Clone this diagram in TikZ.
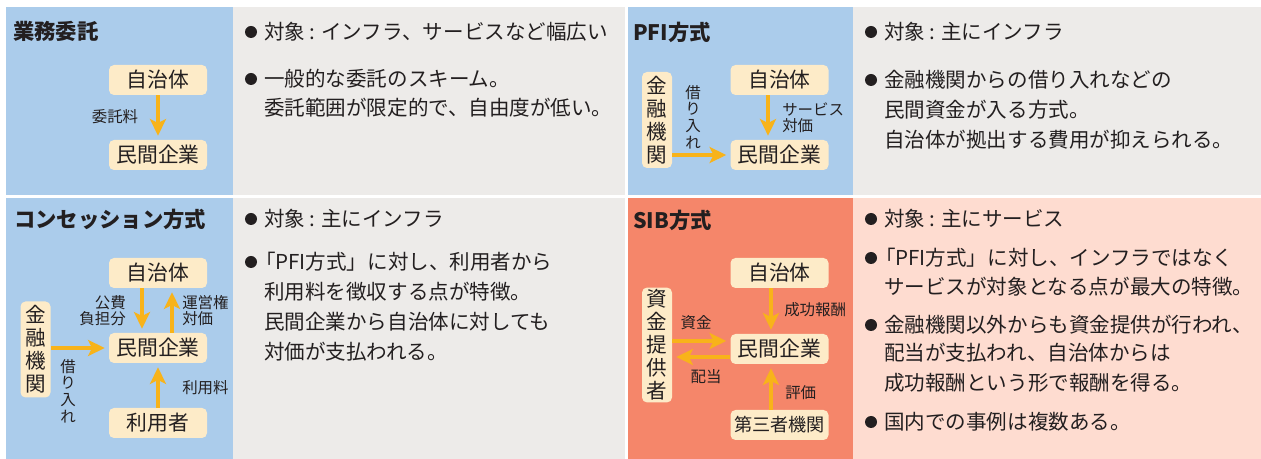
\documentclass[tikz,border=0pt]{standalone}
\usepackage{fontspec}
\setmainfont{Noto Sans CJK JP}
\usetikzlibrary{arrows.meta}
\definecolor{bluec}{HTML}{ABCCEB}
\definecolor{grayc}{HTML}{EDEBE9}
\definecolor{salmonc}{HTML}{F5866A}
\definecolor{pinkc}{HTML}{FEDCD0}
\definecolor{nodec}{HTML}{FDEBC8}
\definecolor{arrc}{HTML}{F8B31A}
\definecolor{textc}{HTML}{231F20}
\newcommand\myBody{\fontsize{15.4pt}{18pt}\selectfont}
\newcommand\myNode{\fontsize{15.6pt}{18pt}\selectfont}
\newcommand\myNodeS{\fontsize{13.6pt}{16pt}\selectfont}
\newcommand\myLab{\fontsize{11.6pt}{12pt}\selectfont}
\newcommand\myTitle{\fontsize{16pt}{18pt}\selectfont\bfseries}
\newcommand\myVert{\fontsize{15.4pt}{17.25pt}\selectfont}
\newcommand\myVlab{\fontsize{11.6pt}{12.5pt}\selectfont}
\newcommand\myColon{\hspace{0.2em}:\hspace{0.3em}}
\tikzset{
  box/.style={fill=nodec, rounded corners=3.75pt, minimum width=73.5pt, minimum height=22.5pt, inner sep=0pt, font=\myNode, text=textc},
  vbox/.style={fill=nodec, rounded corners=3.75pt, minimum width=22.5pt, inner sep=1.5pt, align=center, font=\myVert, text=textc},
  arr/.style={draw=arrc, line width=3pt, -{Stealth[length=12.5pt,width=12pt,inset=3pt]}, shorten >=3pt},
  lab/.style={font=\myLab, text=textc, inner sep=0pt},
  vlab/.style={font=\myVlab, text=textc, inner sep=0pt, align=center},
  txt/.style={font=\myBody, text=textc, inner sep=0pt, anchor=west},
  bul/.style={circle, fill=textc, minimum size=9pt, inner sep=0pt},
  ttl/.style={font=\myTitle, text=textc, inner sep=0pt, anchor=west}
}
\begin{document}
\begin{tikzpicture}[x=0.75pt,y=-0.75pt]
\useasboundingbox (0,0) rectangle (1261,459);
% panels
\fill[bluec] (6,7) rectangle (233,195);
\fill[grayc] (233,7) rectangle (625,195);
\fill[bluec] (628,7) rectangle (853,195);
\fill[grayc] (853,7) rectangle (1261,195);
\fill[bluec] (6,198) rectangle (233,459);
\fill[grayc] (233,198) rectangle (625,459);
\fill[salmonc] (628,198) rectangle (853,459);
\fill[pinkc] (853,198) rectangle (1261,459);

% titles
\node[ttl] (t1) at (13,31) {業務委託};
\node[ttl] (t2) at (633,32) {PFI方式};
\node[ttl] (t3) at (14,219) {コンセッション方式};
\node[ttl] (t4) at (633,220) {SIB方式};

% --- 業務委託
\node[box] (ji1) at (158,80) {自治体};
\node[box] (mk1) at (158,155) {民間企業};
\draw[arr] (ji1.south) -- (mk1.north);
\node[lab] (l1) at (115,117) {委託料};

% --- PFI
\node[box] (ji2) at (779.5,80) {自治体};
\node[box] (mk2) at (779.5,155) {民間企業};
\node[vbox, minimum height=72pt] (kin2) at (657,120) {金\\融\\機\\関};
\draw[arr] ([xshift=-8.6pt]ji2.south) -- ([xshift=-8.6pt]mk2.north);
\draw[arr] (mk2.west -| kin2.east) -- (mk2.west);
\node[vlab] (l2) at (693,117) {借\\り\\入\\れ};
\node[lab, align=left, anchor=west] (l3) at (782,118) {サービス\\対価};

% --- コンセッション
\node[box] (ji3) at (158,273) {自治体};
\node[box] (mk3) at (158,348) {民間企業};
\node[box] (ri3) at (158,423) {利用者};
\node[vbox, minimum height=72pt] (kin3) at (35.5,349.5) {金\\融\\機\\関};
\draw[arr] ([xshift=-12pt]ji3.south) -- ([xshift=-12pt]mk3.north);
\draw[arr] ([xshift=10.5pt]mk3.north) -- ([xshift=10.5pt]ji3.south);
\draw[arr] (ri3.north) -- (mk3.south);
\draw[arr] (mk3.west -| kin3.east) -- (mk3.west);
\node[lab, align=right, anchor=east] (l4) at (126,311) {公費\\負担分};
\node[lab, align=left, anchor=west] (l5) at (182,311) {運営権\\対価};
\node[lab, anchor=west] (l6) at (182,388) {利用料};
\node[vlab] (l7) at (68,391) {借\\り\\入\\れ};

% --- SIB
\node[box] (ji4) at (779.5,273) {自治体};
\node[box] (mk4) at (779.5,349) {民間企業};
\node[box, font=\myNodeS] (dai4) at (779.5,425) {第三者機関};
\node[vbox, minimum height=86pt] (shi4) at (657,345) {資\\金\\提\\供\\者};
\draw[arr] ([xshift=-6.4pt]ji4.south) -- ([xshift=-6.4pt]mk4.north);
\draw[arr] ([xshift=-6.4pt]dai4.north) -- ([xshift=-6.4pt]mk4.south);
\draw[arr] ([yshift=6pt]mk4.west -| shi4.east) -- ([yshift=6pt]mk4.west);
\draw[arr] ([yshift=-6pt]mk4.west) -- ([yshift=-6pt]mk4.west -| shi4.east);
\node[lab, anchor=west] (l8) at (784,310) {成功報酬};
\node[lab] (l9) at (696,323) {資金};
\node[lab] (l10) at (706,377) {配当};
\node[lab, anchor=west] (l11) at (785,393) {評価};

% --- text top-middle
\node[bul] (b1) at (251,32) {};
\node[txt] (a1) at (264,32) {対象\myColon インフラ、サービスなど幅広い};
\node[bul] (b2) at (251,79) {};
\node[txt] (a2) at (264,79) {一般的な委託のスキーム。};
\node[txt] (a3) at (264,108) {委託範囲が限定的で、自由度が低い。};

% --- text top-right
\node[bul] (b3) at (871,32) {};
\node[txt] (c1) at (884,32) {対象\myColon 主にインフラ};
\node[bul] (b4) at (871,80) {};
\node[txt] (c2) at (884,80) {金融機関からの借り入れなどの};
\node[txt] (c3) at (884,110) {民間資金が入る方式。};
\node[txt] (c4) at (884,140) {自治体が拠出する費用が抑えられる。};

% --- text bottom-middle
\node[bul] (b5) at (251,219) {};
\node[txt] (d1) at (264,219) {対象\myColon 主にインフラ};
\node[bul] (b6) at (251,262) {};
\node[txt] (d2) at (264,262) {\hspace{-0.45em}「PFI方式」に対し、利用者から};
\node[txt] (d3) at (264,292) {利用料を徴収する点が特徴。};
\node[txt] (d4) at (264,322) {民間企業から自治体に対しても};
\node[txt] (d5) at (264,352) {対価が支払われる。};

% --- text bottom-right
\node[bul] (b7) at (871,219) {};
\node[txt] (e1) at (884,219) {対象\myColon 主にサービス};
\node[bul] (b8) at (871,258) {};
\node[txt] (e2) at (884,258) {\hspace{-0.45em}「PFI方式」に対し、インフラではなく};
\node[txt] (e3) at (884,287) {サービスが対象となる点が最大の特徴。};
\node[bul] (b9) at (871,325) {};
\node[txt] (e4) at (884,325) {金融機関以外からも資金提供が行われ、};
\node[txt] (e5) at (884,353) {配当が支払われ、自治体からは};
\node[txt] (e6) at (884,383) {成功報酬という形で報酬を得る。};
\node[bul] (b10) at (871,422) {};
\node[txt] (e7) at (884,422) {国内での事例は複数ある。};
\end{tikzpicture}
\end{document}
